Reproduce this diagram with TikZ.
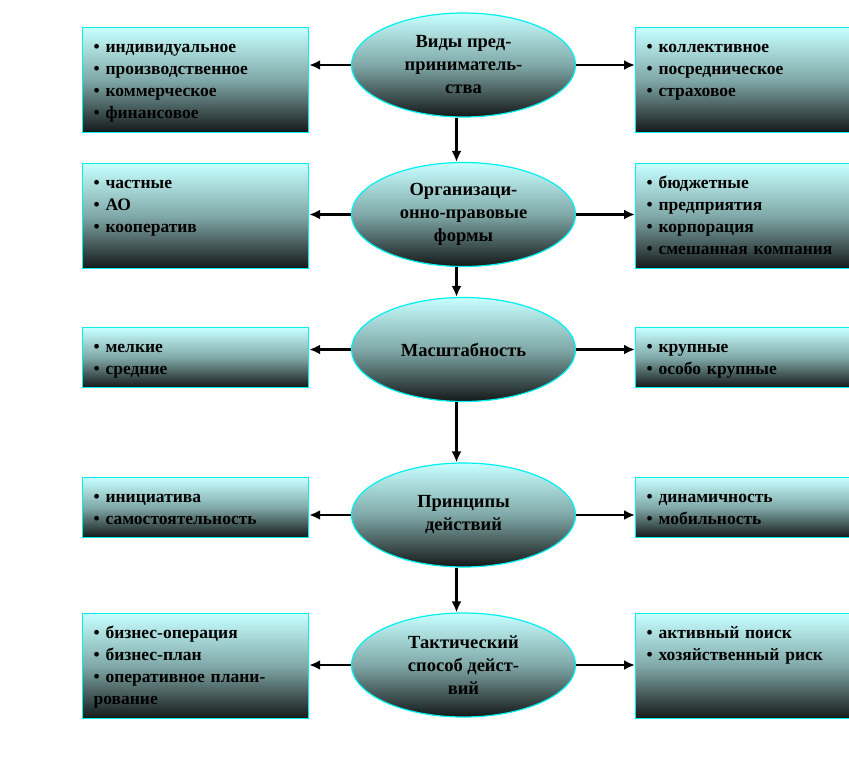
\documentclass[tikz,border=0pt]{standalone}
\usepackage{fontspec}
\setmainfont{Liberation Serif}
\usetikzlibrary{arrows.meta,shapes.geometric}

\definecolor{paleblue}{RGB}{200,255,255}
\definecolor{midgrey}{RGB}{128,168,168}
\definecolor{darkgrey}{RGB}{20,24,24}
\definecolor{rim}{RGB}{0,240,240}

\tikzset{
  gradfill/.style={top color=paleblue, bottom color=darkgrey, middle color=midgrey, draw=rim, line width=1.2pt},
  kind/.style={gradfill, ellipse, minimum width=224pt, minimum height=104pt, inner sep=0pt, align=center, font=\bfseries\fontsize{18.5}{23}\selectfont},
  items/.style={gradfill, rectangle, anchor=north west, text width=204pt, inner xsep=11pt, inner ysep=6pt, align=left, text height=19pt, font=\bfseries\fontsize{17.5}{22}\selectfont},
  tall/.style={items, text depth=74pt},
  short/.style={items, text depth=29pt},
  link/.style={line width=2.5pt, -{Latex[length=11pt,width=10pt]}}
}

\begin{document}
\begin{tikzpicture}[x=1pt,y=-1pt]
\useasboundingbox (0,0) rectangle (849,756);
\clip (0,0) rectangle (849,756);

% central chain
\node[kind] (e1) at (463.5,65) {Виды пред-\\приниматель-\\ства};
\node[kind] (e2) at (463.5,214.5) {Организаци-\\онно-правовые\\формы};
\node[kind] (e3) at (463.5,349.5) {Масштабность};
\node[kind] (e4) at (463.5,515) {Принципы\\действий};
\node[kind] (e5) at (463.5,665) {Тактический\\способ дейст-\\вий};

% left lists
\node[tall] (l1) at (82,27) {\textbullet\ индивидуальное\\\textbullet\ производственное\\\textbullet\ коммерческое\\\textbullet\ финансовое};
\node[tall] (l2) at (82,163) {\textbullet\ частные\\\textbullet\ АО\\\textbullet\ кооператив};
\node[short] (l3) at (82,327) {\textbullet\ мелкие\\\textbullet\ средние};
\node[short] (l4) at (82,477) {\textbullet\ инициатива\\\textbullet\ самостоятельность};
\node[tall] (l5) at (82,613) {\textbullet\ бизнес-операция\\\textbullet\ бизнес-план\\\textbullet\ оперативное плани-\\рование};

% right lists
\node[tall] (r1) at (635,27) {\textbullet\ коллективное\\\textbullet\ посредническое\\\textbullet\ страховое};
\node[tall] (r2) at (635,163) {\textbullet\ бюджетные\\\textbullet\ предприятия\\\textbullet\ корпорация\\\textbullet\ смешанная компания};
\node[short] (r3) at (635,327) {\textbullet\ крупные\\\textbullet\ особо крупные};
\node[short] (r4) at (635,477) {\textbullet\ динамичность\\\textbullet\ мобильность};
\node[tall] (r5) at (635,613) {\textbullet\ активный поиск\\\textbullet\ хозяйственный риск};

\draw[link] ([xshift=-7pt]e1.south) -- ([xshift=-7pt]e2.north);
\draw[link] ([xshift=-7pt]e2.south) -- ([xshift=-7pt]e3.north);
\draw[link] ([xshift=-7pt]e3.south) -- ([xshift=-7pt]e4.north);
\draw[link] ([xshift=-7pt]e4.south) -- ([xshift=-7pt]e5.north);

\draw[link] (e1.west) -- (e1.west -| l1.east);
\draw[link] (e2.west) -- (e2.west -| l2.east);
\draw[link] (e3.west) -- (e3.west -| l3.east);
\draw[link] (e4.west) -- (e4.west -| l4.east);
\draw[link] (e5.west) -- (e5.west -| l5.east);

\draw[link] (e1.east) -- (e1.east -| r1.west);
\draw[link] (e2.east) -- (e2.east -| r2.west);
\draw[link] (e3.east) -- (e3.east -| r3.west);
\draw[link] (e4.east) -- (e4.east -| r4.west);
\draw[link] (e5.east) -- (e5.east -| r5.west);
\end{tikzpicture}
\end{document}
